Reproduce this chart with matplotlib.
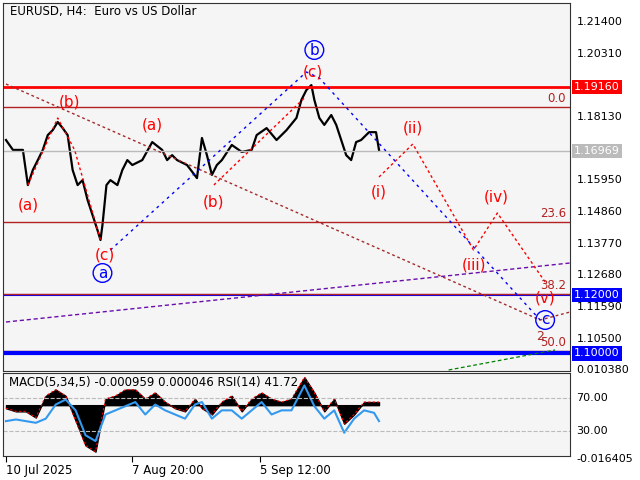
import matplotlib
matplotlib.use("Agg")
import matplotlib.pyplot as plt
import numpy as np

# ---- data ----
bar_x = [3,10,20,25,30,35,40,45,50,55,60,65,70,75,80,85,90,95,98,100,104,108,115,120,125,130,140,150,160,165,170,175,185,195,200,205,210,215,220,230,240,250,255,265,275,285,295,300,305,310,313,318,323,330,335,345,350,355,360,368,375,378]
price = [1.1734,1.1700,1.1700,1.1579,1.1631,1.1665,1.1700,1.1751,1.1768,1.1796,1.1775,1.1751,1.1631,1.1579,1.1596,1.1528,1.1476,1.1424,1.1390,1.1442,1.1579,1.1596,1.1579,1.1631,1.1665,1.1648,1.1665,1.1727,1.1700,1.1665,1.1682,1.1665,1.1648,1.1603,1.1741,1.1682,1.1614,1.1648,1.1665,1.1717,1.1693,1.1700,1.1751,1.1775,1.1734,1.1768,1.1810,1.1872,1.1906,1.1923,1.1872,1.1810,1.1786,1.1820,1.1786,1.1682,1.1665,1.1727,1.1734,1.1761,1.1761,1.1700]
ind_x = [3,13,23,33,43,53,63,73,83,93,103,113,123,133,143,153,163,173,183,193,200,210,220,230,240,250,260,270,280,290,303,313,323,333,343,353,363,373,378]
rsi = [42,44,42,40,45,62,68,55,25,18,50,55,60,65,50,62,55,50,45,62,65,45,55,55,45,55,65,50,55,55,85,60,45,55,28,45,55,52,42]
macd = [-1,-2,-2,-4,3,5,3,-5,-13,-15,2,3,5,5,2,4,1,-1,-2,2,-1,-3,1,3,-2,2,4,2,1,2,9,4,-2,2,-6,-3,1,1,1]  # x 1e-3
price_ticks = [1.21400,1.20310,1.18130,1.15950,1.14860,1.13770,1.12680,1.11590,1.10500]
x_tick_pos = [3,130,258]
x_tick_labels = ["10 Jul 2025","7 Aug 20:00","5 Sep 12:00"]
fib_levels = [(1.1848,"0.0"),(1.1452,"23.6"),(1.1204,"38.2"),(1.1008,"50.0")]

def y2p(y):  # pixel -> price helper for annotation geometry
    return 1.2140-(y-22)*0.000344

W,H = 640,480
fig = plt.figure(figsize=(6.4,4.8),dpi=100,facecolor="white")
ax = fig.add_axes([3/W,1-371/H,567/W,368/H],facecolor="#f5f5f5")
ax.set_xlim(0,570); ax.set_ylim(y2p(371),y2p(3))
ax.plot(bar_x,price,color="black",lw=1.6)

ax.axhline(1.12000,color="blue",lw=1.5)
for lv,lab in fib_levels:
    ax.axhline(lv,color="#b22222",lw=1)
    ax.text(566,lv+0.0006,lab,color="#b22222",ha="right",va="bottom",fontsize=8.5)
ax.axhline(1.16969,color="#bbbbbb",lw=1)
ax.axhline(1.19160,color="red",lw=2)
ax.axhline(1.10000,color="blue",lw=3)

def seg(pts,**kw):
    ax.plot([p[0] for p in pts],[y2p(p[1]) for p in pts],**kw)
seg([(3,84),(540,320),(570,312)],color="#a52a2a",ls=(0,(2,2)),lw=1)
seg([(3,322),(570,263)],color="#6a0dad",ls=(0,(3,2)),lw=1)
seg([(448,370),(555,350)],color="green",ls=(0,(3,2)),lw=0.9)
seg([(108,250),(305,72),(318,78),(540,320)],color="blue",ls=(0,(2,3)),lw=1)
seg([(212,185),(304,97)],color="red",ls=(0,(2,2)),lw=1)
seg([(25,185),(55,118),(72,150),(98,240)],color="red",ls=(0,(2,2)),lw=1)
seg([(378,177),(412,144),(473,250),(497,213),(545,282)],color="red",ls=(0,(2,2)),lw=1)

def lab(x,y,t,c="red"):
    ax.text(x,y2p(y),t,color=c,ha="center",va="center",fontsize=11)
for x,y,t in [(25,205,"(a)"),(67,102,"(b)"),(102,255,"(c)"),(150,125,"(a)"),(212,202,"(b)"),(312,72,"(c)"),
              (378,192,"(i)"),(412,128,"(ii)"),(473,265,"(iii)"),(496,197,"(iv)"),(545,298,"(v)")]:
    lab(x,y,t)
for x,y,t in [(100,273,"a"),(313,50,"b"),(545,320,"c")]:
    ax.text(x,y2p(y),t,color="blue",ha="center",va="center",fontsize=11,
            bbox=dict(boxstyle="circle,pad=0.12",fc="none",ec="blue",lw=1))
ax.text(540,y2p(336),"2",color="#a52a2a",ha="center",va="center",fontsize=9)
ax.text(7,y2p(12),"EURUSD, H4:  Euro vs US Dollar",fontsize=8.5,va="center")
ax.set_xticks([]); ax.set_yticks([])
for s in ax.spines.values(): s.set_color("#333333"); s.set_linewidth(0.8)

# right price axis labels
for t in price_ticks:
    fig.text(577/W,ax.transData.transform((0,t))[1]/H,f"{t:.5f}",fontsize=8,va="center")
for v,fc,tc in [(1.19160,"red","white"),(1.16969,"#bbbbbb","white"),(1.12000,"blue","white"),(1.10000,"blue","white")]:
    fig.text(574/W,ax.transData.transform((0,v))[1]/H,f"{v:.5f}",fontsize=8,va="center",color=tc,
             bbox=dict(boxstyle="square,pad=0.2",fc=fc,ec="none"))

# indicator panel
ax2 = fig.add_axes([3/W,1-456/H,567/W,83/H],facecolor="#f5f5f5")
ax2.set_xlim(0,570); ax2.set_ylim(0,100)
zero = 100*0.016405/0.026785
mv = [zero+m*1e-3/0.026785*100 for m in macd]
ax2.fill_between(ind_x,zero,mv,color="black")
ax2.plot(ind_x,mv,color="red",ls=(0,(2,2)),lw=0.8)
ax2.plot(ind_x,rsi,color="#3399ee",lw=1.5)
for lv in (70,30): ax2.axhline(lv,color="#bbbbbb",ls="--",lw=0.8)
ax2.text(6,88,"MACD(5,34,5) -0.000959 0.000046 RSI(14) 41.72",fontsize=8.5,va="center")
ax2.set_xticks(x_tick_pos); ax2.set_xticklabels(x_tick_labels,fontsize=8.5)
for l in ax2.get_xticklabels(): l.set_horizontalalignment("left")
ax2.set_yticks([])
ax2.tick_params(axis="x",length=4,pad=2)
for s in ax2.spines.values(): s.set_color("#333333"); s.set_linewidth(0.8)
for v,t in [(100,"0.010380"),(70,"70.00"),(30,"30.00"),(0,"-0.016405")]:
    fig.text(576/W,ax2.transData.transform((0,v))[1]/H-(3/H if v==0 else 0)+(3/H if v==100 else 0),t,fontsize=8,va="center")
fig.savefig("out.png",dpi=100,facecolor="white")
